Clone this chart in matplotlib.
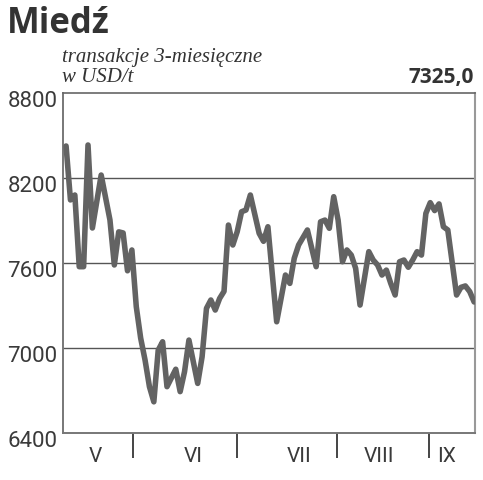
import matplotlib
matplotlib.use("Agg")
import matplotlib.pyplot as plt
from matplotlib.transforms import ScaledTranslation

# data: trading-day index vs copper price (3-month contracts, USD/t)
days = [0, 1, 2, 3, 4, 5, 6, 8, 10, 11, 12, 13, 14, 15, 16, 17, 18, 19, 20,
        21, 22, 23, 25, 26, 27, 28, 30, 31, 32, 33, 34, 35, 36, 37, 38, 39,
        40, 41, 42, 44, 45, 46, 48, 50, 51, 52, 53, 55, 57, 58, 59, 60, 61,
        62, 63, 64, 65, 66, 67, 69, 70, 71, 72, 73, 74, 75, 76, 77, 78, 79,
        80, 81, 82, 83, 84, 85, 86, 87, 89, 90, 91, 92, 93]
prices = [8426, 8045, 8080, 7574, 7574, 8433, 7847, 8221, 7904, 7586, 7820,
          7812, 7545, 7692, 7292, 7070, 6915, 6727, 6620, 6985, 7044, 6727,
          6850, 6692, 6833, 7056, 6750, 6938, 7280, 7339, 7268, 7350, 7400,
          7868, 7727, 7821, 7962, 7974, 8080, 7810, 7753, 7856, 7185, 7515,
          7456, 7633, 7727, 7833, 7574, 7891, 7903, 7845, 8068, 7903, 7609,
          7692, 7656, 7562, 7303, 7680, 7621, 7586, 7515, 7550, 7456, 7374,
          7609, 7621, 7570, 7621, 7680, 7656, 7950, 8026, 7970, 8017, 7856,
          7833, 7374, 7428, 7438, 7398, 7325]

y_ticks = [6400, 7000, 7600, 8200, 8800]
month_bounds = [15.2, 38.9, 61.8, 82.7]
month_pos = [6.6, 28.9, 53.2, 71.4, 86.8]
month_names = ["V", "VI", "VII", "VIII", "IX"]
last_value = "7325,0"

W, H = 483, 480
fig = plt.figure(figsize=(W / 100, H / 100), dpi=100)
ax = fig.add_axes([63 / W, 1 - 433 / H, (475 - 63) / W, (433 - 93) / H])

ax.plot(days, prices, color="#636363", lw=4, solid_joinstyle="round",
        solid_capstyle="round", zorder=3)

for v in y_ticks[1:-1]:
    ax.axhline(v, color="#555555", lw=1, zorder=1)

ax.set_xlim(-0.7, 93.2)
ax.set_ylim(6400, 8800)

for s in ["left", "bottom"]:
    ax.spines[s].set_color("#777777")
    ax.spines[s].set_linewidth(1.4)
ax.spines["top"].set_color("#666666")
ax.spines["top"].set_linewidth(1.2)
ax.spines["right"].set_color("#999999")
ax.spines["right"].set_linewidth(1.5)

ax.set_yticks(y_ticks)
ax.set_yticklabels([str(v) for v in y_ticks], fontfamily="Roboto",
                   fontsize=16, color="#3a3a3a")
ax.tick_params(axis="y", length=0, pad=4)
off = ScaledTranslation(0, -6 / 100, fig.dpi_scale_trans)
for lab in ax.get_yticklabels():
    lab.set_transform(lab.get_transform() + off)

ax.set_xticks(month_pos)
ax.set_xticklabels(month_names, fontfamily="Roboto", fontsize=15,
                   color="#3a3a3a")
ax.set_xticks(month_bounds, minor=True)
ax.tick_params(axis="x", which="major", length=0, pad=10)
ax.tick_params(axis="x", which="minor", length=18, width=1.4,
               color="#444444", direction="out")

fig.text(7 / W, 1 - 33 / H, "Miedź", fontfamily="Open Sans",
         fontweight="bold", fontsize=25, color="#333333", va="baseline")
fig.text(62 / W, 1 - 62 / H, "transakcje 3-miesięczne",
         fontfamily="Liberation Serif", fontstyle="italic", fontsize=15,
         color="#333333", va="baseline")
fig.text(62 / W, 1 - 82 / H, "w USD/t", fontfamily="Liberation Serif",
         fontstyle="italic", fontsize=15, color="#333333", va="baseline")
fig.text(474 / W, 1 - 83 / H, last_value, fontfamily="Open Sans",
         fontweight="bold", fontsize=15, color="#333333", va="baseline",
         ha="right")

fig.savefig("out.png", dpi=100)
